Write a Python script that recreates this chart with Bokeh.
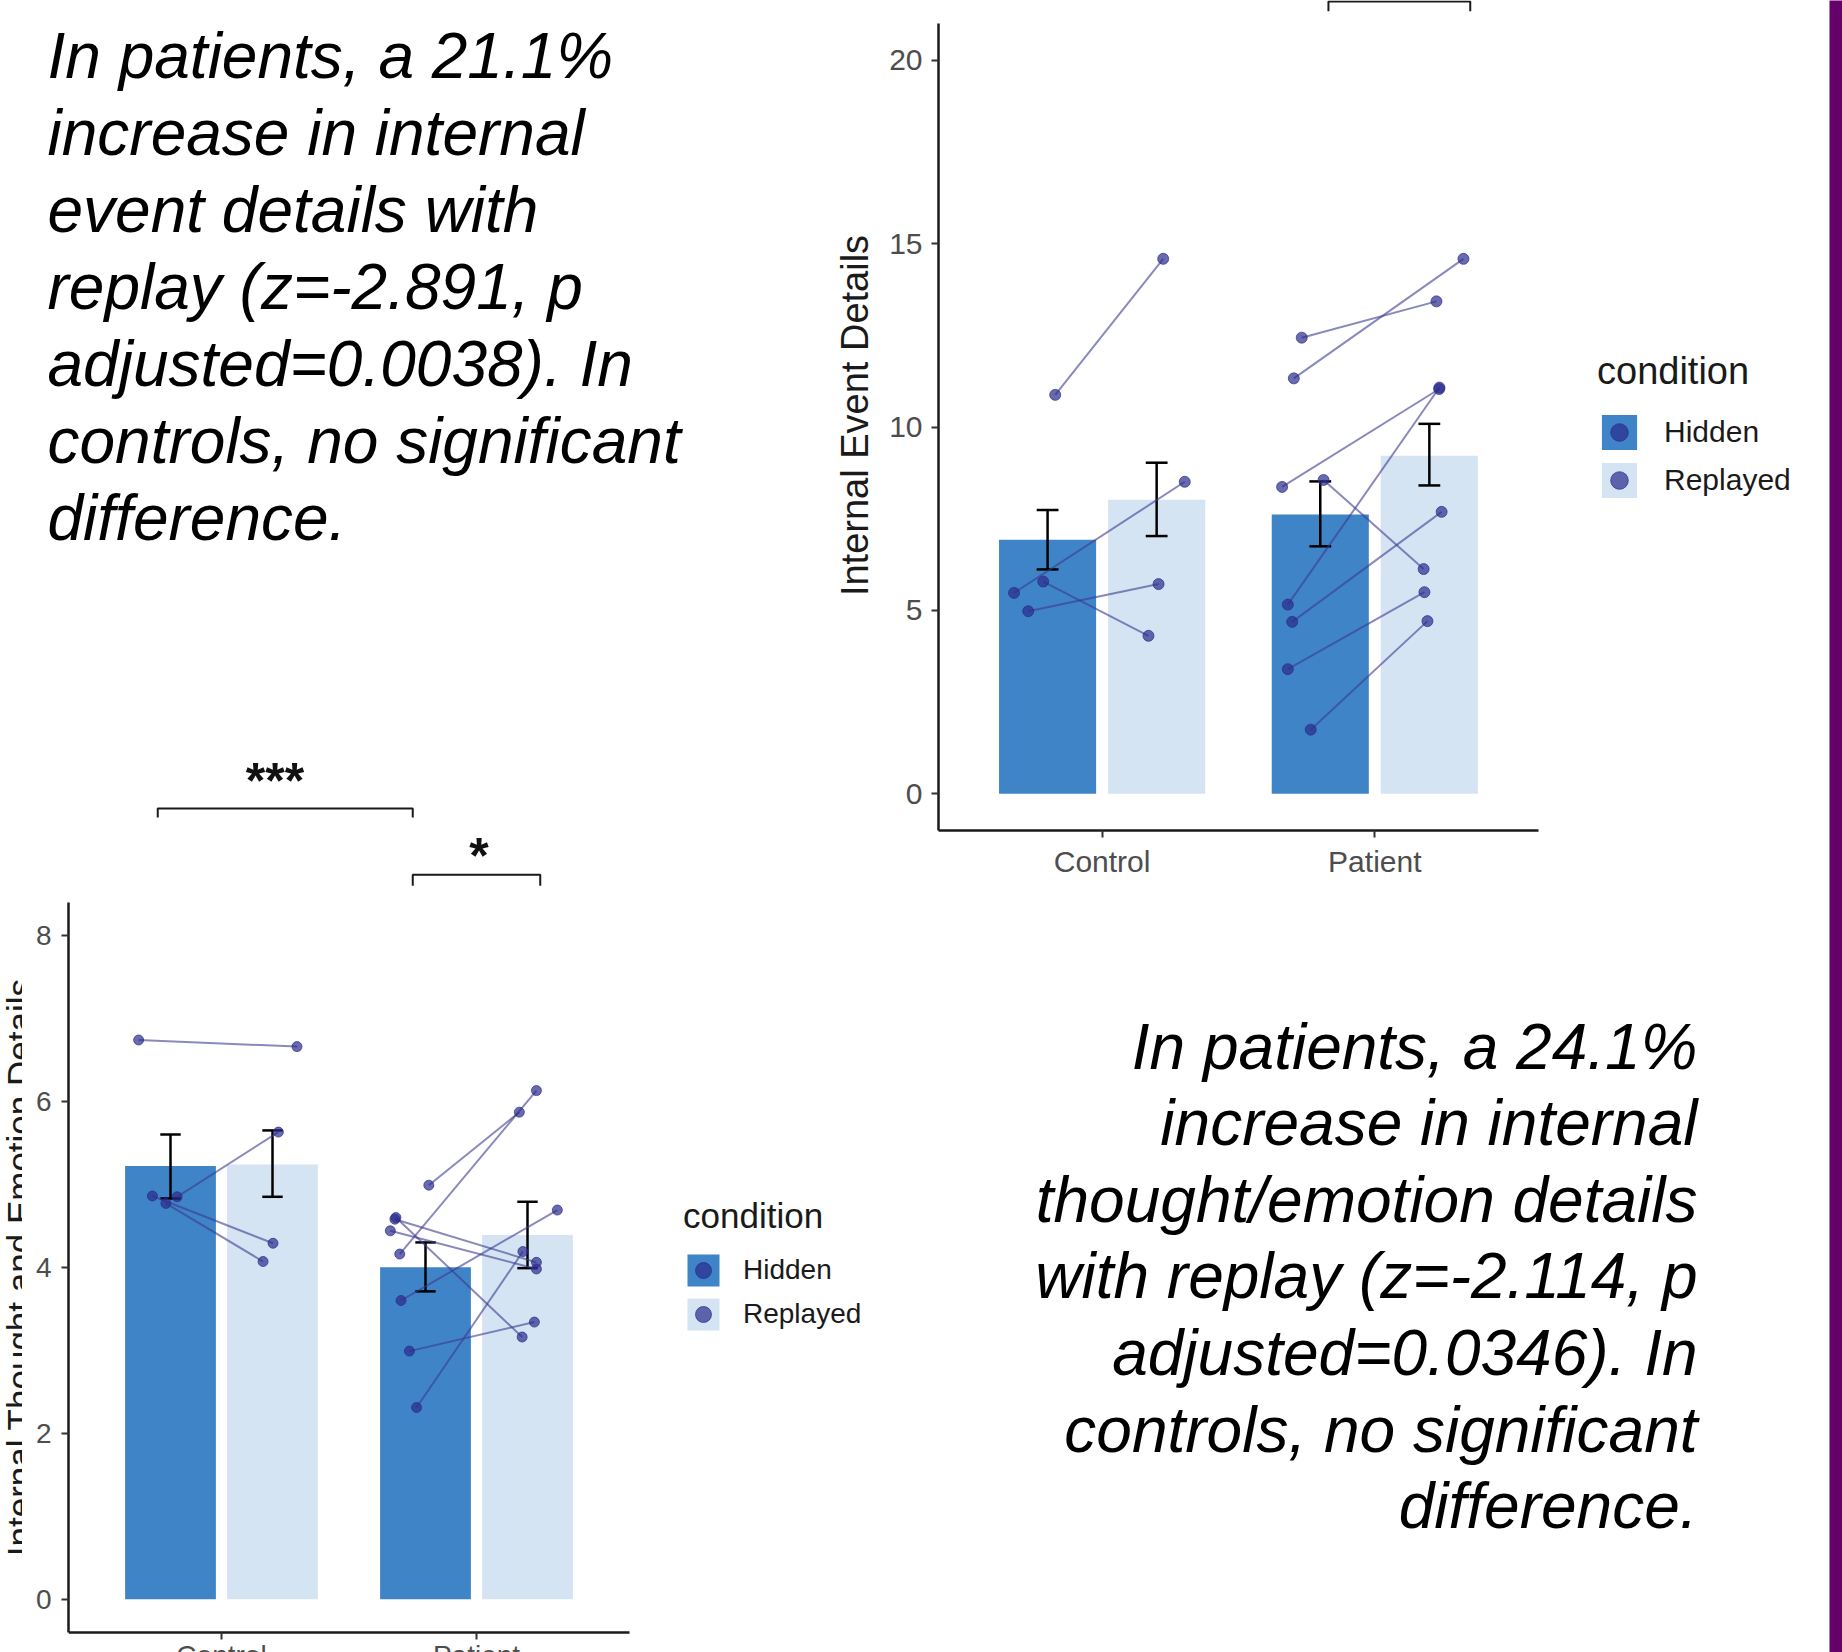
import math
from bokeh.plotting import figure
from bokeh.models import Range1d, Row, Column, Legend, LegendItem, FixedTicker
from bokeh.core.properties import value
from bokeh.embed import file_html
from bokeh.resources import INLINE

FONT = "Liberation Sans"
HIDDEN_COLOR = "#3f84c6"
REPLAY_COLOR = "#d5e4f3"
POINT_COLOR = "#2b2b8b"
LINE_COLOR = "#3b3b90"
PURPLE = "#66006a"
DODGE = 0.2
BAR_W = 0.356
CAP_W = 0.08

# ---------------- data ----------------
categories = ["Control", "Patient"]
cat_pos = [1, 2]
conditions = ["Hidden", "Replayed"]

# Chart A: Internal Event Details
event_mean_hidden = [6.93, 7.62]
event_mean_replayed = [8.02, 9.22]
event_err_hidden_lo = [6.12, 6.75]
event_err_hidden_hi = [7.74, 8.52]
event_err_replayed_lo = [7.03, 8.41]
event_err_replayed_hi = [9.03, 10.09]
event_ctrl_hidden = [10.88, 5.48, 5.79, 4.98]
event_ctrl_replayed = [14.59, 8.51, 4.31, 5.72]
event_ctrl_jit_hidden = [0.028, -0.123, -0.016, -0.071]
event_ctrl_jit_replayed = [0.024, 0.103, -0.030, 0.007]
event_pat_hidden = [11.33, 12.44, 8.37, 5.16, 8.56, 4.69, 3.40, 1.75]
event_pat_replayed = [14.59, 13.43, 11.04, 11.08, 6.13, 7.69, 5.50, 4.71]
event_pat_jit_hidden = [-0.097, -0.068, -0.140, -0.119, 0.012, -0.103, -0.119, -0.035]
event_pat_jit_replayed = [0.125, 0.026, 0.036, 0.037, -0.021, 0.045, -0.018, -0.007]
event_y_ticks = [0, 5, 10, 15, 20]
event_bracket_x = [1.83, 2.35]
event_bracket_y = [21.61, 21.34]

# Chart B: Internal Thought and Emotion Details
thought_mean_hidden = [5.22, 4.00]
thought_mean_replayed = [5.24, 4.39]
thought_err_hidden_lo = [4.83, 3.71]
thought_err_hidden_hi = [5.60, 4.30]
thought_err_replayed_lo = [4.85, 3.99]
thought_err_replayed_hi = [5.65, 4.79]
thought_ctrl_hidden = [6.74, 4.85, 4.86, 4.77]
thought_ctrl_replayed = [6.66, 5.63, 4.29, 4.07]
thought_ctrl_jit_hidden = [-0.125, 0.026, -0.071, -0.018]
thought_ctrl_jit_replayed = [0.096, 0.023, 0.002, -0.037]
thought_pat_hidden = [4.99, 4.16, 3.60, 2.99, 2.31, 4.60, 4.58, 4.44]
thought_pat_replayed = [5.87, 6.13, 4.69, 3.34, 4.19, 3.16, 4.06, 3.98]
thought_pat_jit_hidden = [0.013, -0.101, -0.096, -0.063, -0.035, -0.116, -0.120, -0.138]
thought_pat_jit_replayed = [-0.032, 0.035, 0.117, 0.027, -0.018, -0.021, 0.035, 0.035]
thought_y_ticks = [0, 2, 4, 6, 8]
thought_bracket_x0 = [0.75, 1.75]
thought_bracket_x1 = [1.75, 2.25]
thought_bracket_y = [9.53, 8.73]
thought_bracket_tip = [9.42, 8.60]
thought_stars = ["***", "*"]
thought_star_x = [1.21, 2.01]
thought_star_y = [9.86, 8.96]

text_top = ["In patients, a 21.1%", "increase in internal", "event details with",
            "replay (z=-2.891, p", "adjusted=0.0038). In", "controls, no significant",
            "difference."]
text_bottom = ["In patients, a 24.1%", "increase in internal", "thought/emotion details",
               "with replay (z=-2.114, p", "adjusted=0.0346). In", "controls, no significant",
               "difference."]

# ---------------- page geometry (px) ----------------
SPLIT_TOP_X = 830      # text | chart A
SPLIT_Y = 890          # top row | bottom row
SPLIT_BOT_X = 880      # chart B | text
LAB_W = 22
STRIPE_W = 13
PAGE_W, PAGE_H = 1842, 1652
B_FRAME_LEFT = 68
B_PX_PER_X = 255.0
B_ZERO_Y = 1598.7
B_PX_PER_Y = 82.97


def bare(p):
    p.xgrid.visible = False
    p.ygrid.visible = False
    p.outline_line_color = None
    p.background_fill_color = None
    p.border_fill_color = None


def style_axes(p, y_ticks, y_bounds, tick_size, y_standoff, x_standoff):
    for ax in (p.xaxis[0], p.yaxis[0]):
        ax.axis_line_width = 2.5
        ax.axis_line_color = "#1a1a1a"
        ax.major_tick_line_color = "#333333"
        ax.major_tick_line_width = 2
        ax.major_tick_in = 0
        ax.major_tick_out = 7
        ax.minor_tick_line_color = None
        ax.major_label_text_font = FONT
        ax.major_label_text_font_size = tick_size
        ax.major_label_text_color = "#4d4d4d"
    p.yaxis[0].ticker = FixedTicker(ticks=y_ticks)
    p.yaxis[0].bounds = y_bounds
    p.yaxis[0].major_label_standoff = y_standoff
    p.xaxis[0].ticker = FixedTicker(ticks=cat_pos)
    p.xaxis[0].major_label_overrides = {c: n for c, n in zip(cat_pos, categories)}
    p.xaxis[0].bounds = (0.4, 2.6)
    p.xaxis[0].major_label_standoff = x_standoff


def draw_data(p, mh, mr, lo_h, hi_h, lo_r, hi_r, subjects, pt_size):
    xh = [c - DODGE for c in cat_pos]
    xr = [c + DODGE for c in cat_pos]
    bh = p.vbar(x=xh, top=mh, bottom=0, width=BAR_W, fill_color=HIDDEN_COLOR, line_color=None)
    br = p.vbar(x=xr, top=mr, bottom=0, width=BAR_W, fill_color=REPLAY_COLOR, line_color=None)
    ex = xh + xr
    elo = lo_h + lo_r
    ehi = hi_h + hi_r
    p.segment(x0=ex, y0=elo, x1=ex, y1=ehi, line_color="black", line_width=2.5)
    p.segment(x0=[x - CAP_W / 2 for x in ex], y0=ehi, x1=[x + CAP_W / 2 for x in ex], y1=ehi,
              line_color="black", line_width=2.5)
    p.segment(x0=[x - CAP_W / 2 for x in ex], y0=elo, x1=[x + CAP_W / 2 for x in ex], y1=elo,
              line_color="black", line_width=2.5)
    all_xh, all_yh, all_xr, all_yr = [], [], [], []
    for ci, (vh, vr, jh, jr) in enumerate(subjects):
        c = cat_pos[ci]
        all_xh += [c - DODGE + j for j in jh]
        all_xr += [c + DODGE + j for j in jr]
        all_yh += vh
        all_yr += vr
    p.segment(x0=all_xh, y0=all_yh, x1=all_xr, y1=all_yr, line_color=LINE_COLOR,
              line_alpha=0.6, line_width=2)
    ph = p.scatter(x=all_xh, y=all_yh, size=pt_size, marker="circle", fill_color=POINT_COLOR,
                   fill_alpha=0.7, line_color=POINT_COLOR, line_alpha=0.7)
    pr = p.scatter(x=all_xr, y=all_yr, size=pt_size, marker="circle", fill_color=POINT_COLOR,
                   fill_alpha=0.7, line_color=POINT_COLOR, line_alpha=0.7)
    return bh, br, ph, pr


def add_legend(p, rends, loc, title_size, label_size, glyph, standoff, title_standoff):
    bh, br, ph, pr = rends
    leg = Legend(items=[LegendItem(label=conditions[0], renderers=[bh, ph]),
                        LegendItem(label=conditions[1], renderers=[br, pr])],
                 title="condition", location=loc)
    leg.title_text_font = FONT
    leg.title_text_font_size = title_size
    leg.title_text_font_style = "normal"
    leg.title_text_color = "#1a1a1a"
    leg.title_standoff = title_standoff
    leg.label_text_font = FONT
    leg.label_text_font_size = label_size
    leg.label_text_color = "#1a1a1a"
    leg.glyph_width = glyph
    leg.glyph_height = glyph
    leg.spacing = 4
    leg.label_standoff = standoff
    leg.padding = 0
    leg.margin = 0
    leg.border_line_color = None
    leg.background_fill_alpha = 0
    p.add_layout(leg)


# ---------------- Chart A (top right) ----------------
pA = figure(width=PAGE_W - STRIPE_W - SPLIT_TOP_X, height=SPLIT_Y,
            x_range=Range1d(0.4, 3.6674), y_range=Range1d(-1.0, 21.635),
            output_backend="svg", toolbar_location=None,
            min_border_left=108, min_border_right=0, min_border_top=0, min_border_bottom=60)
bare(pA)
style_axes(pA, event_y_ticks, (-1.0, 21.0), "30px", 9, 7)
pA.yaxis[0].axis_label = "Internal Event Details"
pA.yaxis[0].axis_label_text_font = FONT
pA.yaxis[0].axis_label_text_font_size = "38px"
pA.yaxis[0].axis_label_text_font_style = "normal"
pA.yaxis[0].axis_label_text_color = "#1a1a1a"
pA.yaxis[0].axis_label_standoff = 10
rA = draw_data(pA, event_mean_hidden, event_mean_replayed, event_err_hidden_lo, event_err_hidden_hi,
               event_err_replayed_lo, event_err_replayed_hi,
               [(event_ctrl_hidden, event_ctrl_replayed, event_ctrl_jit_hidden, event_ctrl_jit_replayed),
                (event_pat_hidden, event_pat_replayed, event_pat_jit_hidden, event_pat_jit_replayed)], 11)
pA.line(x=[event_bracket_x[0], event_bracket_x[0], event_bracket_x[1], event_bracket_x[1]],
        y=[event_bracket_y[1], event_bracket_y[0], event_bracket_y[0], event_bracket_y[1]],
        line_color="#1a1a1a", line_width=2)
add_legend(pA, rA, (659, 328), "38px", "30px", 44, 23, 17)

# ---------------- Chart B (bottom left) ----------------
pB_w = SPLIT_BOT_X - LAB_W
pB_h = PAGE_H - SPLIT_Y
pB = figure(width=pB_w, height=pB_h,
            x_range=Range1d(0.4, 0.4 + (SPLIT_BOT_X - B_FRAME_LEFT) / B_PX_PER_X),
            y_range=Range1d((B_ZERO_Y - PAGE_H) / B_PX_PER_Y, (B_ZERO_Y - SPLIT_Y) / B_PX_PER_Y),
            output_backend="svg", toolbar_location=None,
            min_border_left=B_FRAME_LEFT - LAB_W, min_border_right=0, min_border_top=0, min_border_bottom=0)
bare(pB)
style_axes(pB, thought_y_ticks, (-0.4, 8.4), "28px", 10, 1)
pB.xaxis[0].fixed_location = -0.4
rB = draw_data(pB, thought_mean_hidden, thought_mean_replayed, thought_err_hidden_lo, thought_err_hidden_hi,
               thought_err_replayed_lo, thought_err_replayed_hi,
               [(thought_ctrl_hidden, thought_ctrl_replayed, thought_ctrl_jit_hidden, thought_ctrl_jit_replayed),
                (thought_pat_hidden, thought_pat_replayed, thought_pat_jit_hidden, thought_pat_jit_replayed)], 10)
add_legend(pB, rB, (615, 318), "35px", "28px", 40, 20, 14)

# y-axis title of chart B (cut off at the page edge as in the slide)
labB = figure(width=LAB_W, height=pB_h, x_range=Range1d(0, LAB_W), y_range=Range1d(0, pB_h),
              output_backend="svg", toolbar_location=None, min_border=0,
              x_axis_type=None, y_axis_type=None)
bare(labB)
labB.text(x=[18.6], y=[385.2], text=["Internal Thought and Emotion Details"], angle=math.pi / 2,
          text_font=value(FONT), text_font_size="35px", text_align="center",
          text_baseline="alphabetic", text_color="#1a1a1a")

# ---------------- top-left text panel (also carries chart B's significance brackets) ----------------
tA = figure(width=SPLIT_TOP_X, height=SPLIT_Y, x_range=Range1d(0, SPLIT_TOP_X), y_range=Range1d(SPLIT_Y, 0),
            output_backend="svg", toolbar_location=None, min_border=0,
            x_axis_type=None, y_axis_type=None)
bare(tA)
# same data scale as chart B, continued above its panel
tA.extra_x_ranges = {"thought": Range1d(0.4 - B_FRAME_LEFT / B_PX_PER_X,
                                        0.4 + (SPLIT_TOP_X - B_FRAME_LEFT) / B_PX_PER_X)}
tA.extra_y_ranges = {"thought": Range1d((B_ZERO_Y - SPLIT_Y) / B_PX_PER_Y, B_ZERO_Y / B_PX_PER_Y)}
tA.text(x=[47] * len(text_top), y=[55 + 77.0 * i for i in range(len(text_top))], text=text_top,
        text_font=value(FONT), text_font_style="italic", text_font_size="64px",
        text_align="left", text_baseline="alphabetic", text_color="black")
for x0, x1, y, tip in zip(thought_bracket_x0, thought_bracket_x1, thought_bracket_y, thought_bracket_tip):
    tA.line(x=[x0, x0, x1, x1], y=[tip, y, y, tip], line_color="#1a1a1a", line_width=2,
            x_range_name="thought", y_range_name="thought")
tA.text(x=thought_star_x, y=thought_star_y, text=thought_stars, text_font=value(FONT),
        text_font_size="50px", text_font_style="bold", text_align="center",
        text_baseline="alphabetic", text_color="#111111",
        x_range_name="thought", y_range_name="thought")

# ---------------- bottom-right text panel ----------------
tB_w = PAGE_W - STRIPE_W - SPLIT_BOT_X
tB = figure(width=tB_w, height=pB_h, x_range=Range1d(SPLIT_BOT_X, PAGE_W - STRIPE_W),
            y_range=Range1d(PAGE_H, SPLIT_Y),
            output_backend="svg", toolbar_location=None, min_border=0,
            x_axis_type=None, y_axis_type=None)
bare(tB)
tB.text(x=[1697] * len(text_bottom), y=[1046 + 76.6 * i for i in range(len(text_bottom))],
        text=text_bottom, text_font=value(FONT), text_font_style="italic", text_font_size="64px",
        text_align="right", text_baseline="alphabetic", text_color="black")

stripe = figure(width=STRIPE_W, height=PAGE_H, output_backend="svg", toolbar_location=None, min_border=0,
                x_axis_type=None, y_axis_type=None)
stripe.outline_line_color = None
stripe.background_fill_color = PURPLE
stripe.border_fill_color = PURPLE

top = Row(children=[Column(children=[tA], spacing=0), Column(children=[pA], spacing=0)], spacing=0)
bottom = Row(children=[Column(children=[labB], spacing=0), Column(children=[pB], spacing=0),
                       Column(children=[tB], spacing=0)], spacing=0)
layout = Row(children=[Column(children=[top, bottom], spacing=0), stripe], spacing=0)

open("out.html", "w").write(file_html(layout, INLINE))
